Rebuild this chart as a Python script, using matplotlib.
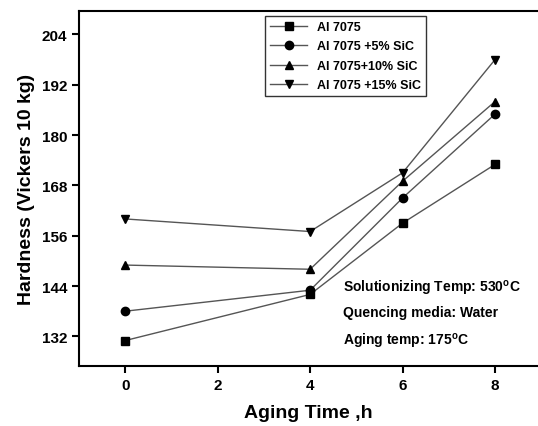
import matplotlib
matplotlib.use("Agg")
import matplotlib.pyplot as plt

plt.rcParams['font.family'] = ['Liberation Sans', 'DejaVu Sans']
plt.rcParams['font.weight'] = 'bold'
plt.rcParams['mathtext.fontset'] = 'custom'
plt.rcParams['mathtext.rm'] = 'Liberation Sans:bold'
plt.rcParams['mathtext.bf'] = 'Liberation Sans:bold'

aging_time = [0, 4, 6, 8]
al7075 = [131, 142, 159, 173]
sic5 = [138, 143, 165, 185]
sic10 = [149, 148, 169, 188]
sic15 = [160, 157, 171, 198]

labels = ["Al 7075", "Al 7075 +5% SiC", "Al 7075+10% SiC", "Al 7075 +15% SiC"]
series = [al7075, sic5, sic10, sic15]
markers = ["s", "o", "^", "v"]

notes = [r"Solutionizing Temp: 530$^{\mathrm{o}}$C",
         "Quencing media: Water",
         r"Aging temp: 175$^{\mathrm{o}}$C"]

fig = plt.figure(figsize=(5.38, 4.27), dpi=100)
ax = fig.add_axes([0.1468, 0.1412, 0.8532, 0.8298])

for vals, m, lab in zip(series, markers, labels):
    ax.plot(aging_time, vals, color="#555555", lw=1.0, marker=m, ms=6,
            mfc="black", mec="black", label=lab)

ax.set_xlim(-1, 8.93)
ax.set_ylim(125, 209.5)
ax.set_xticks([0, 2, 4, 6, 8])
ax.set_yticks([132, 144, 156, 168, 180, 192, 204])
ax.spines['right'].set_visible(False)
for s in ['left', 'top', 'bottom']:
    ax.spines[s].set_linewidth(1.5)
ax.tick_params(direction='out', width=1.5, length=5, labelsize=11)
for t in ax.get_xticklabels() + ax.get_yticklabels():
    t.set_fontweight('bold')

ax.set_xlabel("Aging Time ,h", fontsize=14, fontweight='bold', labelpad=9)
ax.set_ylabel("Hardness (Vickers 10 kg)", fontsize=14, fontweight='bold', labelpad=5)

leg = ax.legend(loc='upper left', bbox_to_anchor=(0.405, 0.987), borderaxespad=0,
                fontsize=9, handlelength=3, labelspacing=0.6, fancybox=False,
                edgecolor='#333333', framealpha=1)
for t in leg.get_texts():
    t.set_fontweight('bold')

for txt, yv in zip(notes, [143.7, 137.8, 130.9]):
    ax.text(4.71, yv, txt, fontsize=10, fontweight='bold', va='center')

plt.savefig("out.png", dpi=100)
